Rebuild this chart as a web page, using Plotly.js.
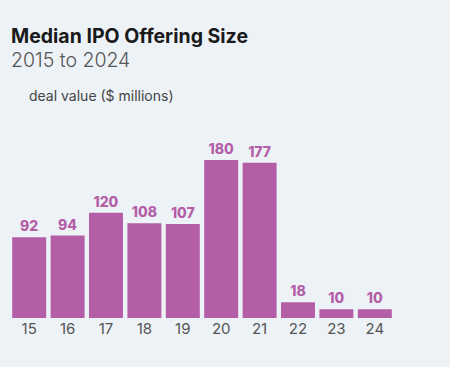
<!DOCTYPE html>
<html><head><meta charset="utf-8">
<script src="https://cdn.plot.ly/plotly-3.0.1.min.js"></script>
<style>html,body{margin:0;padding:0;background:#edf2f7;}</style>
</head><body>
<div id="chart" style="width:450px;height:367px;"></div>
<script>
const years = ["15","16","17","18","19","20","21","22","23","24"];
const medianDealValue = [92, 94, 120, 108, 107, 180, 177, 18, 10, 10];

const barColor = "#b45ea8";
const W = 384, H = 208;
Plotly.newPlot("chart", [{
  type: "bar",
  x: years,
  y: medianDealValue,
  marker: {color: barColor},
  text: medianDealValue.map(String),
  textposition: "outside",
  textfont: {family: "Inter, Roboto, sans-serif", size: 14, color: barColor, weight: 800},
  cliponaxis: false,
  hoverinfo: "none"
}], {
  width: 450, height: 367,
  margin: {l: 10, r: 56, t: 110, b: 49},
  paper_bgcolor: "#edf2f7",
  plot_bgcolor: "#edf2f7",
  bargap: 0.115,
  showlegend: false,
  xaxis: {type: "category", showgrid: false, zeroline: false, showline: false, ticks: "",
    tickfont: {family: "Inter, Roboto, sans-serif", size: 15, color: "#555"}},
  yaxis: {range: [0, 237], visible: false, showgrid: false, zeroline: false},
  annotations: [
    {xref: "paper", yref: "paper", x: -1/W, y: 1 + (110-36)/H, xanchor: "left", yanchor: "middle",
     text: "<b>Median IPO Offering Size</b>", showarrow: false,
     font: {family: "Inter, Roboto, sans-serif", size: 19.5, color: "#1a1a1a"}},
    {xref: "paper", yref: "paper", x: -1/W, y: 1 + (110-60)/H, xanchor: "left", yanchor: "middle",
     text: "2015 to 2024", showarrow: false,
     font: {family: "Inter, Roboto, sans-serif", size: 19.5, color: "#555", weight: 300}},
    {xref: "paper", yref: "paper", x: 17/W, y: 1 + (110-95.5)/H, xanchor: "left", yanchor: "middle",
     text: "deal value ($ millions)", showarrow: false,
     font: {family: "Inter, Roboto, sans-serif", size: 14, color: "#444"}}
  ]
}, {displayModeBar: false, staticPlot: true});
</script>
</body></html>
